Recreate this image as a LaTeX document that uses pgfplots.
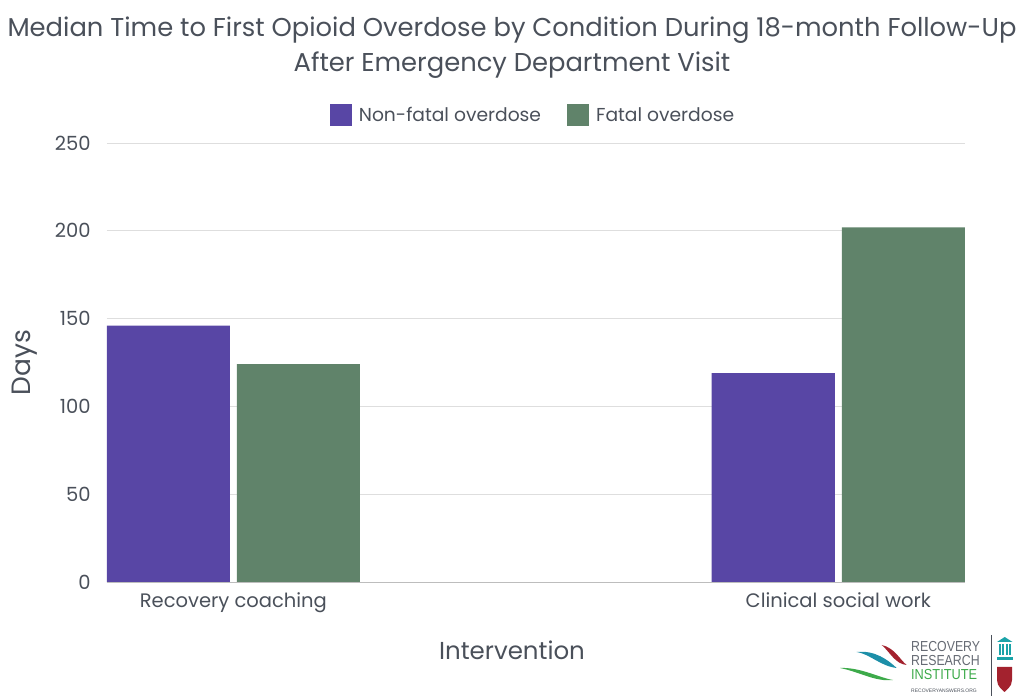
\documentclass[border=0pt]{standalone}
\usepackage{fontspec}
\setmainfont{Poppins}
\newfontfamily\logofont{Liberation Sans}
\usepackage{pgfplots}
\pgfplotsset{compat=1.18}
\definecolor{purp}{HTML}{5846A5}
\definecolor{grn}{HTML}{60836A}
\definecolor{txt}{HTML}{4A505A}
\definecolor{gridc}{HTML}{DEDEDE}
\definecolor{lred}{HTML}{A3222E}
\definecolor{lblue}{HTML}{1D8FA8}
\definecolor{lgreen}{HTML}{3DAA4A}
\definecolor{lteal}{HTML}{1AA3A8}
\begin{document}
\begin{tikzpicture}
\path[use as bounding box] (0pt,0pt) rectangle (1024pt,700pt);
% title
\node[text=txt, font=\fontsize{25.8}{35}\selectfont, align=center] at (512pt,652.5pt) {Median Time to First Opioid Overdose by Condition During 18-month Follow-Up\\After Emergency Department Visit};
\begin{axis}[
  at={(106.7pt,118pt)}, anchor=south west,
  scale only axis, width=858.3pt, height=439pt,
  xmin=-0.2094, xmax=1.2094, ymin=0, ymax=250,
  ybar,
  bar width=0.2035,
  axis line style={draw=none},
  axis x line*=bottom,
  ytick={0,50,100,150,200,250},
  ymajorgrids, xmajorgrids=false, grid style={color=gridc, line width=0.8pt},
  major tick length=0pt,
  xtick={0,1}, xticklabels={Recovery coaching, Clinical social work},
  tick label style={text=txt, font=\fontsize{19.5}{22}\selectfont},
  yticklabel style={anchor=east, inner sep=0pt, xshift=-16pt},
  xticklabel style={anchor=base, inner sep=0pt, yshift=-26pt},
  /pgf/number format/assume math mode=true,
  xlabel={Intervention}, ylabel={Days},
  label style={text=txt, font=\fontsize{24.5}{28}\selectfont},
  xlabel style={at={(axis description cs:0.4722,-0.155)}, anchor=center},
  ylabel style={at={(axis description cs:-0.0952,0.5)}, anchor=center, rotate=0, font=\fontsize{26.5}{30}\selectfont},
  legend image code/.code={\fill[#1] (0pt,-11pt) rectangle (22pt,11pt); \path (27pt,0pt);},
  legend style={at={(0.4967,1.0638)}, anchor=center, draw=none, fill=none,
    legend columns=2, font=\fontsize{18.7}{22}\selectfont, text=txt,
    /tikz/every even column/.append style={column sep=24pt}},
  legend cell align=left,
  clip=false,
]
\addplot[fill=purp, draw=none, bar shift=-0.1075] coordinates {(0,146) (1,119)};
\addplot[fill=grn, draw=none, bar shift=0.1075] coordinates {(0,124) (1,202)};
\legend{Non-fatal overdose, Fatal overdose}
\draw[color=gridc!85!black, line width=0.9pt] (axis cs:-0.2094,0) -- (axis cs:1.2094,0);
\end{axis}
% logo
\fill[lred] (881.7pt,55pt) .. controls (895pt,52pt) and (900pt,40pt) .. (906.7pt,35pt) .. controls (895pt,36pt) and (890pt,48pt) .. cycle;
\fill[lblue] (856.7pt,48pt) .. controls (875pt,50pt) and (888pt,40pt) .. (896.7pt,32pt) .. controls (880pt,34pt) and (870pt,46pt) .. cycle;
\fill[lgreen] (840pt,32pt) .. controls (860pt,33pt) and (880pt,22pt) .. (893pt,20pt) .. controls (875pt,18pt) and (860pt,28pt) .. cycle;
\node[text=txt!85, font=\logofont\fontsize{14.5}{14.5}\selectfont, xscale=0.85, anchor=west, inner sep=0pt] at (911pt,53pt) {RECOVERY};
\node[text=txt!85, font=\logofont\fontsize{14.5}{14.5}\selectfont, xscale=0.85, anchor=west, inner sep=0pt] at (911pt,39.5pt) {RESEARCH};
\node[text=lgreen, font=\logofont\fontsize{14.5}{14.5}\selectfont, xscale=0.88, anchor=west, inner sep=0pt] at (911pt,25pt) {INSTITUTE};
\node[text=txt, font=\logofont\fontsize{5}{5}\selectfont, anchor=west, inner sep=0pt] at (911pt,9.5pt) {RECOVERYANSWERS.ORG};
\draw[txt, line width=0.8pt] (991.7pt,65pt) -- (991.7pt,4pt);
\fill[lteal] (997pt,58pt) -- (1004.7pt,63pt) -- (1012.5pt,58pt) -- cycle;
\foreach \xx in {998.5,1002,1005.5,1009} {\fill[lteal] (\xx pt,45pt) rectangle ++(2pt,11pt);}
\fill[lteal] (997pt,40pt) rectangle (1012.5pt,43pt);
\fill[lred] (997pt,33pt) -- (1012pt,33pt) -- (1012pt,20pt) .. controls (1012pt,13pt) and (1006pt,10pt) .. (1004.5pt,8pt) .. controls (1003pt,10pt) and (997pt,13pt) .. (997pt,20pt) -- cycle;
\end{tikzpicture}
\end{document}
